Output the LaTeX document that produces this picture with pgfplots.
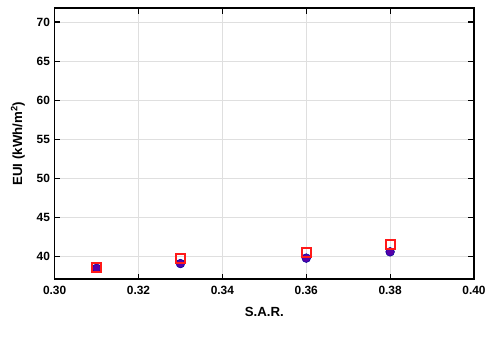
\documentclass[border=0pt]{standalone}
\usepackage{pgfplots}
\pgfplotsset{compat=1.18}
\usepackage{fontspec}
\setmainfont{Liberation Sans}
\begin{document}
\begin{tikzpicture}
\begin{axis}[
  scale only axis,
  width=316.5pt, height=204.75pt,
  xmin=0.30, xmax=0.40, ymin=37.1, ymax=71.8,
  xtick={0.30,0.32,0.34,0.36,0.38,0.40},
  ytick={40,45,50,55,60,65,70},
  xticklabel style={/pgf/number format/fixed,/pgf/number format/fixed zerofill,/pgf/number format/precision=2, yshift=-2pt},
  /pgf/number format/assume math mode=true,
  ticklabel style={font=\bfseries\small},
  grid=major,
  major grid style={gray!25, line width=0.5pt},
  axis line style={line width=1.2pt},
  tick style={black, line width=0.8pt},
  tick align=inside,
  xlabel={\bfseries S.A.R.},
  ylabel={\bfseries EUI (kWh/m$^{\mathbf 2}$)},
  label style={font=\bfseries\normalsize},
  xlabel style={yshift=-2pt},
  ylabel style={yshift=2pt},
]
\addplot[only marks, color=blue!60!black, mark=*, mark size=3.3pt, mark options={fill=blue!55!purple}] coordinates {
(0.31,38.5) (0.33,39.1) (0.36,39.8) (0.38,40.6)};
\addplot[only marks, color=red!90!white, line width=1.5pt, mark=square, mark size=3.4pt] coordinates {
(0.31,38.6) (0.33,39.8) (0.36,40.5) (0.38,41.5)};
\end{axis}
\path[use as bounding box] ([xshift=-41.25pt,yshift=-43.5pt]current axis.south west) rectangle ([xshift=9.75pt,yshift=6pt]current axis.north east);
\end{tikzpicture}
\end{document}
